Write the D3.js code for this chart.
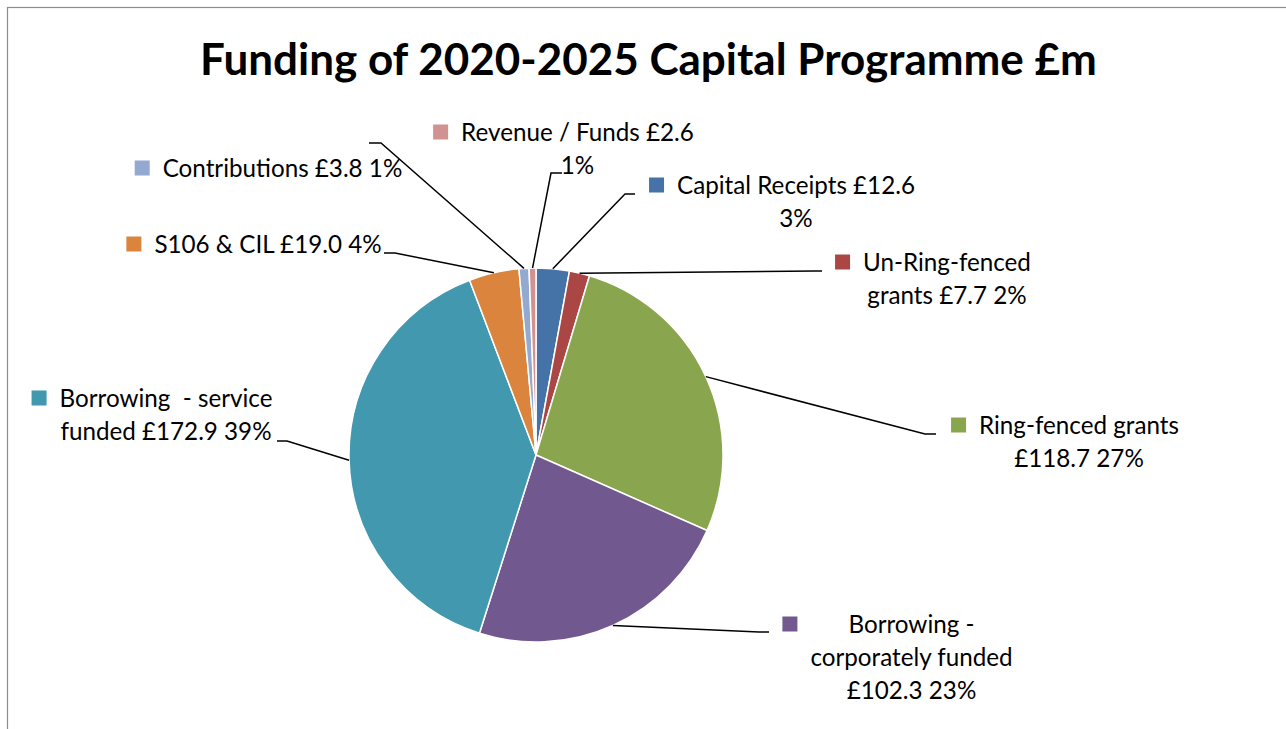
<!DOCTYPE html>
<html>
<head>
<meta charset="utf-8">
<script src="https://cdn.jsdelivr.net/npm/d3@7"></script>
<style>
  html, body { margin: 0; padding: 0; background: #fff; }
  svg { display: block; }
  text { font-family: Lato, "Noto Sans", sans-serif; white-space: pre; }
</style>
</head>
<body>
<svg id="chart" width="1286" height="729"></svg>
<script>
// ---- data ----
const title = "Funding of 2020-2025 Capital Programme £m";
const categories = [
  "Capital Receipts",
  "Un-Ring-fenced grants",
  "Ring-fenced grants",
  "Borrowing - corporately funded",
  "Borrowing  - service funded",
  "S106 & CIL",
  "Contributions",
  "Revenue / Funds"
];
const values = [12.6, 7.7, 118.7, 102.3, 172.9, 19.0, 3.8, 2.6];
const colors = ["#4572A7", "#AA4643", "#89A54E", "#71588F", "#4198AF", "#DB843D", "#93A9CF", "#D19392"];
// words per line for each label's wrapping
const lineBreaks = [[3, 1], [1, 3], [2, 2], [2, 2, 2], [4, 3], [5], [3], [4, 1]];

// ---- layout ----
const W = 1286, H = 729;
const cx = 536, cy = 455, R = 187;
const labelLayout = [
  { c: 796,   y: 194, elbow: [625, 194], end: 635 },
  { c: 947,   y: 271, elbow: [815, 271], end: 822 },
  { c: 1079,  y: 434, elbow: [925, 434], end: 936 },
  { c: 911.5, y: 633, elbow: [759, 632], end: 769 },
  { c: 166,   y: 407, elbow: [287, 441], end: 277 },
  { c: 268,   y: 253, elbow: [395, 253], end: 384 },
  { c: 282.5, y: 177, elbow: [381, 143], end: 369 },
  { c: 577.5, y: 141, elbow: [551, 173], end: 562 }
];
const lineH = 33;

const svg = d3.select("#chart");
svg.append("rect").attr("width", W).attr("height", H).attr("fill", "#fff");
svg.append("rect").attr("x", 7.5).attr("y", 7.5).attr("width", W + 20).attr("height", H + 20)
  .attr("fill", "none").attr("stroke", "#8c8c8c").attr("stroke-width", 1.2);

// title, fit to reference width
const t = svg.append("text").attr("x", 648.5).attr("y", 75).attr("text-anchor", "middle")
  .attr("font-weight", 700).attr("font-size", 40).attr("fill", "#000").text(title);
const tw = t.node().getComputedTextLength();
t.attr("font-size", 40 * 897 / tw);

// label font size fit
const probe = svg.append("text").attr("font-size", 20).text("Capital Receipts £12.6");
const labelFS = 20 * 238 / probe.node().getComputedTextLength();
probe.remove();

const total = d3.sum(values);
const data = categories.map((name, i) => ({ name, value: values[i], color: colors[i], i }));

const pie = d3.pie().value(d => d.value).sort(null).startAngle(0).endAngle(2 * Math.PI);
const arcs = pie(data);
const arc = d3.arc().innerRadius(0).outerRadius(R);

const g = svg.append("g").attr("transform", `translate(${cx},${cy})`);
g.selectAll("path").data(arcs).join("path")
  .attr("d", arc)
  .attr("fill", d => d.data.color)
  .attr("stroke", "#fff").attr("stroke-width", 1.5).attr("stroke-linejoin", "round");

// leader lines
arcs.forEach((a, i) => {
  const mid = (a.startAngle + a.endAngle) / 2;
  const sx = cx + R * Math.sin(mid), sy = cy - R * Math.cos(mid);
  const L = labelLayout[i];
  svg.append("path")
    .attr("d", d3.line()([[sx, sy], L.elbow, [L.end, L.elbow[1]]]))
    .attr("fill", "none").attr("stroke", "#000").attr("stroke-width", 1.5);
});

// labels
arcs.forEach((a, i) => {
  const d = a.data;
  const pct = Math.round(d.value / total * 100);
  const full = `${d.name} £${d.value.toFixed(1)} ${pct}%`;
  const words = full.split(" ");
  const lines = [];
  let k = 0;
  lineBreaks[i].forEach(n => { lines.push(words.slice(k, k + n).join(" ")); k += n; });
  const L = labelLayout[i];
  const tg = svg.append("g");
  let maxW = 0;
  lines.forEach((ln, j) => {
    const tx = tg.append("text").attr("x", L.c).attr("y", L.y + j * lineH)
      .attr("text-anchor", "middle").attr("font-size", labelFS).attr("fill", "#000").text(ln);
    maxW = Math.max(maxW, tx.node().getComputedTextLength());
  });
  tg.append("rect")
    .attr("x", L.c - maxW / 2 - 28).attr("y", L.y - 16.5)
    .attr("width", 15).attr("height", 15).attr("fill", d.color);
});
</script>
</body>
</html>
